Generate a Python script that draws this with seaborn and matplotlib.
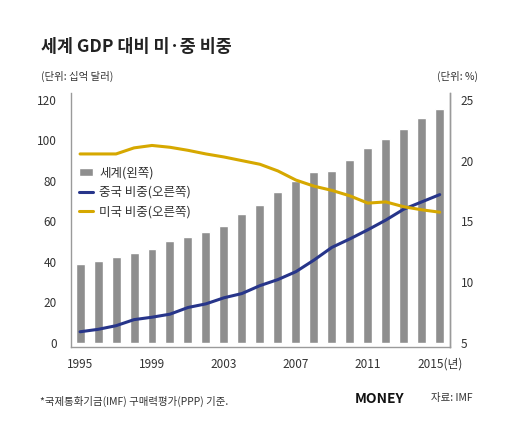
import numpy as np
import pandas as pd
import matplotlib
matplotlib.use("Agg")
import matplotlib.pyplot as plt
import seaborn as sns

# 데이터
years = list(range(1995, 2016))
world_gdp = [38.8, 40.4, 42.5, 44.2, 46.5, 50.1, 52.3, 54.9, 57.9, 63.5, 68.3,
             74.4, 80.1, 84.3, 85.0, 90.3, 96.1, 100.6, 105.5, 111.1, 115.7]
china_share = [5.9, 6.1, 6.4, 6.9, 7.1, 7.35, 7.9, 8.2, 8.7, 9.05, 9.7,
               10.2, 10.85, 11.8, 12.85, 13.55, 14.3, 15.1, 16.0, 16.6, 17.2]
us_share = [20.55, 20.55, 20.55, 21.05, 21.25, 21.1, 20.85, 20.55, 20.3, 20.0, 19.7,
            19.15, 18.4, 17.9, 17.55, 17.1, 16.5, 16.6, 16.2, 15.95, 15.75]
xtick_years = [1995, 1999, 2003, 2007, 2011, 2015]
xtick_labels = ["1995", "1999", "2003", "2007", "2011", "2015(년)"]

df = pd.DataFrame({"year": years, "world": world_gdp,
                   "china": china_share, "us": us_share})

sns.set_theme(style="white")
plt.rcParams["font.family"] = ["Noto Sans CJK KR", "DejaVu Sans"]

BAR = "#8e8e8e"
NAVY = "#27358a"
GOLD = "#d6a800"
SPINE = "#9a9a9a"
TXT = "#333333"

fig = plt.figure(figsize=(5.2, 4.42), dpi=100)
ax = fig.add_axes([0.136, 0.2156, 0.729, 0.5734])

sns.barplot(data=df, x="year", y="world", native_scale=True, width=0.5,
            color=BAR, saturation=1, label="세계(왼쪽)", ax=ax, zorder=1)
ax.set_xlim(1994.48, 2015.56)
ax.set_ylim(-2, 123.3)
ax.set_yticks([0, 20, 40, 60, 80, 100, 120])
ax.set_xticks(xtick_years)
ax.set_xticklabels(xtick_labels)
ax.set_xlabel("")
ax.set_ylabel("")

ax2 = ax.twinx()
sns.lineplot(data=df, x="year", y="china", color=NAVY, lw=2.2,
             label="중국 비중(오른쪽)", ax=ax2)
sns.lineplot(data=df, x="year", y="us", color=GOLD, lw=2.2,
             label="미국 비중(오른쪽)", ax=ax2)
ax2.set_ylim(4.67, 25.55)
ax2.set_yticks([5, 10, 15, 20, 25])
ax2.set_ylabel("")
ax2.set_xlim(1994.48, 2015.56)

for a in (ax, ax2):
    a.spines["top"].set_visible(False)
    for side in ("left", "right", "bottom"):
        a.spines[side].set_color(SPINE)
        a.spines[side].set_linewidth(1.0)
    a.tick_params(length=0, labelsize=8.5, colors=TXT)
ax.tick_params(axis="y", pad=10)
ax.tick_params(axis="x", pad=8)
ax2.tick_params(axis="y", pad=8)
ax2.spines["left"].set_visible(False)
ax2.spines["bottom"].set_visible(False)

# 범례 합치기
h1, l1 = ax.get_legend_handles_labels()
h2, l2 = ax2.get_legend_handles_labels()
if ax.get_legend():
    ax.get_legend().remove()
if ax2.get_legend():
    ax2.get_legend().remove()
leg = ax2.legend(h1 + h2, l1 + l2, loc="upper left", bbox_to_anchor=(0.0, 0.745),
                 frameon=False, fontsize=9, handlelength=1.1, handleheight=0.6,
                 handletextpad=0.5, labelspacing=0.5, borderaxespad=0.3)
for t in leg.get_texts():
    t.set_color(TXT)

fig.text(0.079, 0.893, "세계 GDP 대비 미·중 비중", fontsize=12.5,
         fontweight="bold", color="#222222", va="center")
fig.text(0.079, 0.826, "(단위: 십억 달러)", fontsize=7.5, color=TXT, va="center")
fig.text(0.919, 0.826, "(단위: %)", fontsize=7.5, color=TXT, va="center", ha="right")

fig.text(0.077, 0.091, "*국제통화기금(IMF) 구매력평가(PPP) 기준.", fontsize=7.5,
         color=TXT, va="center")
fig.text(0.777, 0.097, "MONEY", fontsize=10, fontweight="heavy", color="#111111",
         va="center", ha="right")
fig.text(0.829, 0.099, "자료: IMF", fontsize=7.5, color=TXT, va="center")

fig.savefig("out.png", dpi=100, facecolor="white")
